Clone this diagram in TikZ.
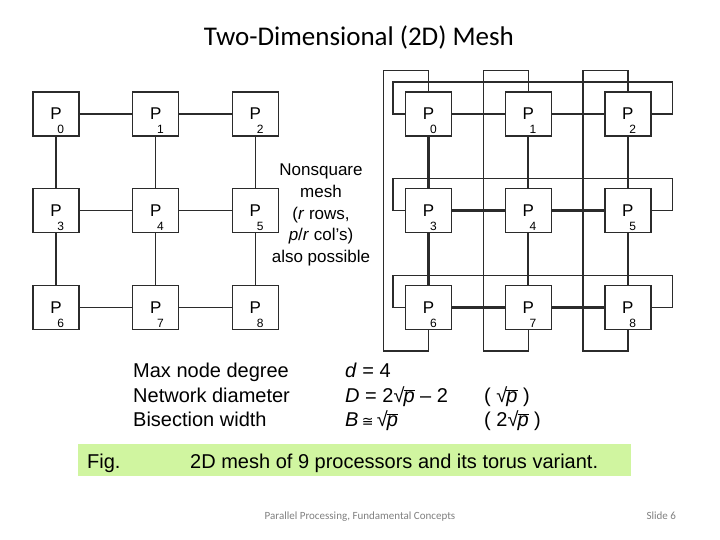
\documentclass[tikz,border=0pt]{standalone}
\usepackage{fontspec}
\setmainfont{Liberation Sans}
\newfontfamily\slidefont{Carlito}
\newfontfamily\symfont{DejaVu Sans}
\usetikzlibrary{positioning}
\definecolor{ink}{HTML}{2B2B2B}
\definecolor{capgreen}{HTML}{D0F5A0}
\definecolor{footgray}{HTML}{7F7F7F}
\newcommand{\proc}[1]{\smash{\makebox[0pt]{\raisebox{-6pt}{P}}\makebox[0pt][l]{\kern1.5pt\raisebox{-20pt}{\fontsize{12}{12}\selectfont #1}}}}
\newcommand{\sqp}{√\kern-1pt$\overline{\mbox{\textit{p}}}$}
\tikzset{
  procbox/.style={draw=ink,line width=1.2pt,fill=white,minimum width=46pt,
    minimum height=44pt,inner sep=0pt,font=\fontsize{17}{17}\selectfont},
  meshlink/.style={draw=ink,line width=1.2pt},
  toruslink/.style={draw=ink,line width=2.4pt},
  wraplink/.style={draw=ink,line width=1.2pt},
  bodytext/.style={anchor=base west,inner sep=0pt,font=\fontsize{20}{24}\selectfont}
}

\begin{document}
\begin{tikzpicture}[x=1pt,y=1pt,node distance=51.5pt and 52.5pt]
\useasboundingbox (0,0) rectangle (720,-540);
\node[anchor=base,font=\slidefont\fontsize{27}{27}\selectfont] (title) at (359,-46) {Two-Dimensional (2D) Mesh};

% plain 2D mesh
\node[procbox] (m0) at (56,-114) {\proc{0}};
\node[procbox,right=of m0] (m1) {\proc{1}};
\node[procbox,right=of m1] (m2) {\proc{2}};
\node[procbox,below=of m0] (m3) {\proc{3}};
\node[procbox,right=of m3] (m4) {\proc{4}};
\node[procbox,right=of m4] (m5) {\proc{5}};
\node[procbox,below=of m3] (m6) {\proc{6}};
\node[procbox,right=of m6] (m7) {\proc{7}};
\node[procbox,right=of m7] (m8) {\proc{8}};
\draw[meshlink] (m0) -- (m1) (m1) -- (m2) (m3) -- (m4) (m4) -- (m5) (m6) -- (m7) (m7) -- (m8)
  (m0) -- (m3) (m3) -- (m6) (m1) -- (m4) (m4) -- (m7) (m2) -- (m5) (m5) -- (m8);

\node[align=center,font=\fontsize{17}{21.75}\selectfont] (note) at (321,-215)
  {Nonsquare\\mesh\\(\textit{r} rows,\\\textit{p}/\textit{r} col’s)\\also possible};

% torus variant
\node[procbox] (t0) at (428.5,-114) {\proc{0}};
\node[procbox,right=of t0] (t1) {\proc{1}};
\node[procbox,right=of t1] (t2) {\proc{2}};
\node[procbox,below=of t0] (t3) {\proc{3}};
\node[procbox,right=of t3] (t4) {\proc{4}};
\node[procbox,right=of t4] (t5) {\proc{5}};
\node[procbox,below=of t3] (t6) {\proc{6}};
\node[procbox,right=of t6] (t7) {\proc{7}};
\node[procbox,right=of t7] (t8) {\proc{8}};
\draw[wraplink] (t0.west) -- ++(-12,0) |- ([xshift=21pt,yshift=32pt]t2.east) |- (t2.east);
\draw[wraplink] (t3.west) -- ++(-12,0) |- ([xshift=21pt,yshift=32pt]t5.east) |- (t5.east);
\draw[wraplink] (t6.west) -- ++(-12,0) |- ([xshift=21pt,yshift=32pt]t8.east) |- (t8.east);
\draw[wraplink] (t6.south) -- ++(0,-21) -- ++(-45,0) |- ([yshift=21pt]t0.north) -- (t0.north);
\draw[wraplink] (t7.south) -- ++(0,-21) -- ++(-45,0) |- ([yshift=21pt]t1.north) -- (t1.north);
\draw[wraplink] (t8.south) -- ++(0,-21) -- ++(-45,0) |- ([yshift=21pt]t2.north) -- (t2.north);
\draw[toruslink] (t0) -- (t1) (t1) -- (t2) (t3) -- (t4) (t4) -- (t5) (t6) -- (t7) (t7) -- (t8)
  (t0) -- (t3) (t3) -- (t6) (t1) -- (t4) (t4) -- (t7) (t2) -- (t5) (t5) -- (t8);

% figures of merit
\node[bodytext] (deg) at (133,-377) {Max node degree};
\node[bodytext] (diam) at (133,-402) {Network diameter};
\node[bodytext] (bisec) at (133,-426) {Bisection width};
\node[bodytext] (degval) at (345,-377) {\textit{d} = 4};
\node[bodytext] (diamval) at (345,-402) {\textit{D} = 2\sqp{} – 2};
\node[bodytext] (bisecval) at (345,-426) {\textit{B}\,{\symfont\fontsize{14}{14}\selectfont ≅}\,\sqp};
\node[bodytext] (diamtor) at (484,-402) {( \sqp\ )};
\node[bodytext] (bisector) at (484,-426) {( 2\sqp\ )};

% caption
\node[fill=capgreen,minimum width=553pt,minimum height=32pt,inner sep=0pt] (band) at (354.5,-460) {};
\node[bodytext] (fig) at (87,-468) {Fig.};
\node[bodytext] (caption) at (190,-468) {2D mesh of 9 processors and its torus variant.};

\node[anchor=base,font=\slidefont\fontsize{11}{11}\selectfont,text=footgray] (footer) at (360,-519) {Parallel Processing, Fundamental Concepts};
\node[anchor=base west,font=\slidefont\fontsize{11}{11}\selectfont,text=footgray] (slide) at (643,-519) {Slide 6};
\end{tikzpicture}
\end{document}
